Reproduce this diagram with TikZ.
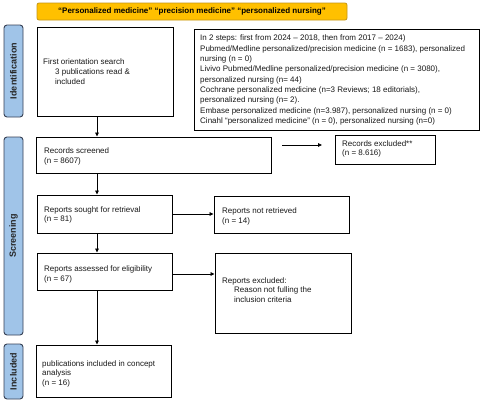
\documentclass[tikz,border=0pt]{standalone}
\usepackage{fontspec}
\setmainfont{Liberation Sans}
\usetikzlibrary{arrows.meta,fit}
\definecolor{bannerfill}{RGB}{255,192,0}
\definecolor{bannerdraw}{RGB}{196,150,20}
\definecolor{sidefill}{RGB}{160,196,232}
\definecolor{sidedraw}{RGB}{55,65,85}
\begin{document}
\begin{tikzpicture}[x=1pt,y=-1pt,
  box/.style={draw=black, line width=0.9pt, inner sep=0pt},
  banner/.style={draw=bannerdraw, fill=bannerfill, line width=0.8pt, rounded corners=2pt, inner sep=0pt},
  side/.style={draw=sidedraw, fill=sidefill, line width=0.9pt, rounded corners=3pt, inner sep=0pt},
  sidelabel/.style={rotate=90, font=\fontsize{9}{10}\selectfont\bfseries, text=black!85, inner sep=0pt},
  txt/.style={font=\fontsize{8}{9.6}\selectfont, align=left, anchor=north west, inner sep=0pt, text=black!90},
  arr/.style={-{Triangle[length=4pt,width=3.6pt]}, line width=0.8pt},
]
\useasboundingbox[fill=white] (0,0) rectangle (483,402);

% banner
\node[banner, fit={(37,3)(347,20)}] (banner) {};
\node[font=\fontsize{8}{9.6}\selectfont\bfseries, inner sep=0pt] (bannert) at (banner.center) {“Personalized medicine” “precision medicine” “personalized nursing”};

% side bars
\node[side, fit={(4,25)(23,117)}] (idside) {};
\node[sidelabel] (idlab) at (idside.center) {Identification};
\node[side, fit={(4,137)(23,335)}] (scside) {};
\node[sidelabel] (sclab) at (scside.center) {Screening};
\node[side, fit={(4,344)(23,399)}] (inside) {};
\node[sidelabel] (inlab) at (inside.center) {Included};

% boxes
\node[box, fit={(37,27)(173,116)}] (orient) {};
\node[txt] (orientt) at (43,59) {First orientation search\\\hspace*{12pt}3 publications read \&\\\hspace*{12pt}included};

\node[box, fit={(194,29)(479,130)}] (search) {};
\node[txt, font=\fontsize{8}{10.3}\selectfont] (searcht) at (200,35) {In 2 steps: first from 2024 – 2018, then from 2017 – 2024)\\
Pubmed/Medline personalized/precision medicine (n = 1683), personalized\\
nursing (n = 0)\\
Livivo Pubmed/Medline personalized/precision medicine (n = 3080),\\
personalized nursing (n= 44)\\
Cochrane personalized medicine (n=3 Reviews; 18 editorials),\\
personalized nursing (n= 2).\\
Embase personalized medicine (n=3.987), personalized nursing (n = 0)\\
Cinahl “personalized medicine” (n = 0), personalized nursing (n=0)};

\node[box, fit={(36,137)(271,173)}] (screened) {};
\node[txt] (screenedt) at (44,148) {Records screened\\(n = 8607)};

\node[box, fit={(335,135)(435,164)}] (excl) {};
\node[txt] (exclt) at (342,140) {Records excluded**\\(n = 8.616)};

\node[box, fit={(37,195)(172,233)}] (sought) {};
\node[txt] (soughtt) at (44,206) {Reports sought for retrieval\\(n = 81)};

\node[box, fit={(214,196)(349,233)}] (notret) {};
\node[txt] (notrett) at (222,208) {Reports not retrieved\\(n = 14)};

\node[box, fit={(37,253)(172,290)}] (assessed) {};
\node[txt] (assessedt) at (44,266) {Reports assessed for eligibility\\(n = 67)};

\node[box, fit={(215,253)(351,333)}] (excltwo) {};
\node[txt] (excltwot) at (222,277) {Reports excluded:\\\hspace*{12pt}Reason not fulling the\\\hspace*{12pt}inclusion criteria};

\node[box, fit={(36,345)(171,397)}] (included) {};
\node[txt] (includedt) at (42,360) {publications included in concept\\analysis\\(n = 16)};

% connectors
\coordinate (col) at (97,0);
\coordinate (rowa) at (0,214);
\coordinate (rowb) at (0,274);
\coordinate (exA) at (282,145);
\coordinate (exB) at (322,145);
\draw[arr] (orient.south -| col) -- (screened.north -| col);
\draw[arr] (exA) -- (exB);
\draw[arr] (screened.south -| col) -- (sought.north -| col);
\draw[arr] (sought.east |- rowa) -- (notret.west |- rowa);
\draw[arr] (sought.south -| col) -- (assessed.north -| col);
\draw[arr] (assessed.east |- rowb) -- (excltwo.west |- rowb);
\draw[arr] (assessed.south -| col) -- (included.north -| col);
\end{tikzpicture}
\end{document}
